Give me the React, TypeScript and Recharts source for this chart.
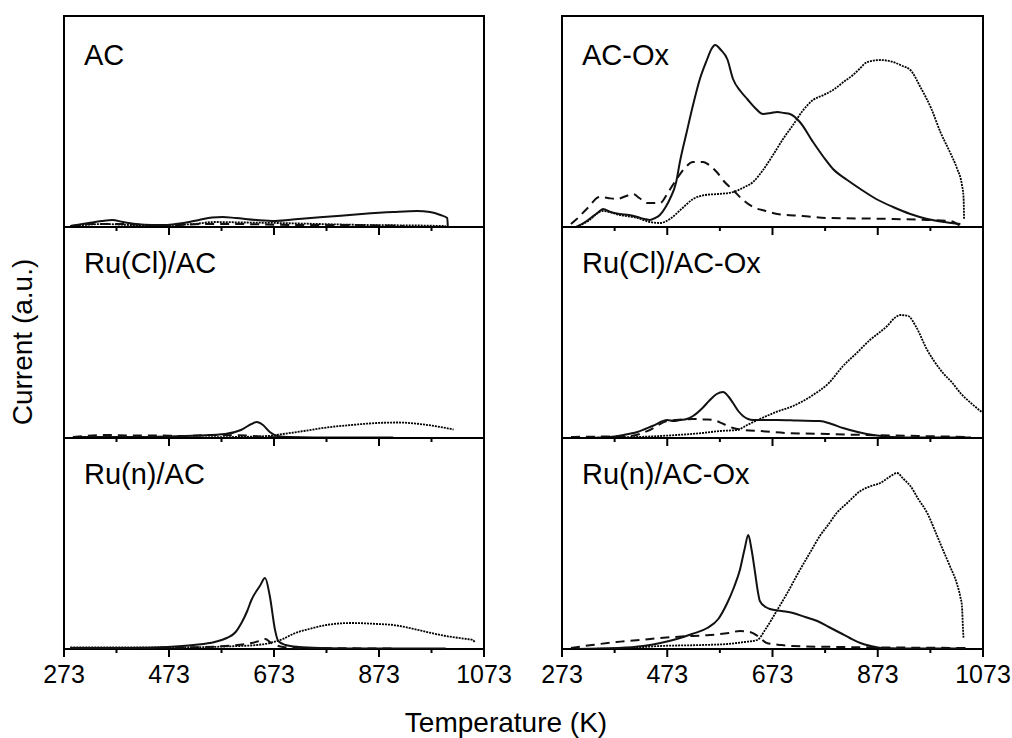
import React from "react";
import { LineChart, Line, XAxis, YAxis, ReferenceArea } from "recharts";

type Pt = [number, number];

// Temperature ticks (K)
const TICKS = [273, 373, 473, 573, 673, 773, 873, 973, 1073];
const MAJOR_TICKS = [273, 473, 673, 873, 1073];

// ---- AC ----
const AC_SOLID: Pt[] = [[285,1],[320,4],[345,6],[365,7],[385,5],[410,3],[440,2],[470,2],[500,4],[530,7],[555,9.5],[575,10],[600,9],[640,7],[675,6],[720,8],[780,10.5],[840,13],[900,15],[945,16],[970,15],[990,12],[1003,9],[1004,1]];
const AC_DASHED: Pt[] = [[285,1],[330,3],[380,3],[430,2],[480,2],[540,3],[600,3],[660,2.5],[720,2],[800,2],[880,1.5],[920,1]];
const AC_DOTTED: Pt[] = [[290,1],[350,3],[400,2],[470,2],[520,3],[560,5],[620,4.5],[680,4],[760,3],[850,2],[950,1.5],[1000,1]];

// ---- Ru(Cl)/AC ----
const RUCL_SOLID: Pt[] = [[290,1],[400,1],[470,1.5],[530,2.5],[580,4],[610,8],[630,14],[640,16],[652,13],[665,6],[680,2],[700,1],[800,0.5],[900,0.5]];
const RUCL_DASHED: Pt[] = [[290,1],[350,3],[400,2.5],[450,2.5],[500,2],[560,3],[620,2.5],[660,1],[720,0.5]];
const RUCL_DOTTED: Pt[] = [[290,0.5],[450,0.5],[600,1],[660,2],[690,4],[730,7],[773,10.5],[820,13],[870,15],[910,15.5],[950,14],[990,11],[1015,8.5]];

// ---- Ru(n)/AC ----
const RUN_SOLID: Pt[] = [[285,1],[400,1],[470,2],[520,4],[560,7],[583,11],[600,17],[611,26],[622,38],[630,49],[646,63],[656,71],[665,53],[675,19],[681,8],[695,4],[720,2],[760,1],[850,0.5],[1000,0.5]];
const RUN_DASHED: Pt[] = [[285,1],[400,1],[500,1.5],[580,3],[620,5],[645,8],[656,10],[668,6],[690,2],[730,1],[900,0.5]];
const RUN_DOTTED: Pt[] = [[285,1.5],[400,1.5],[500,1.5],[580,2.5],[640,4],[665,6],[690,10],[709,15],[740,20],[773,24],[820,26],[870,25],[900,24],[940,20],[964,17],[1000,13],[1040,10],[1052,9],[1055,7]];

// ---- AC-Ox ----
const ACOX_SOLID: Pt[] = [[300,0],[320,6],[340,14],[351,18],[365,15],[383,13],[400,12],[416,10],[430,8],[440,7],[450,9],[459,12],[470,20],[478,28],[490,45],[497,65],[510,95],[522,122],[535,148],[549,168],[557,178],[564,182],[575,177],[587,168],[598,148],[612,136],[625,128],[640,119],[655,113],[670,114],[682,115],[695,114],[706,113],[725,105],[750,85],[770,70],[788,58],[815,47],[840,38],[870,28],[902,20],[935,13],[967,8],[1000,5],[1030,3]];
const ACOX_DASHED: Pt[] = [[290,3],[301,8],[320,18],[345,30],[360,29],[377,28],[395,31],[408,33],[420,29],[434,24],[459,24],[475,35],[491,48],[505,58],[522,65],[541,65],[555,61],[567,55],[582,45],[598,37],[615,28],[636,20],[660,16],[682,13],[730,11],[777,9],[850,8.5],[902,8],[967,7],[1010,6],[1030,1]];
const ACOX_DOTTED: Pt[] = [[300,0],[320,5],[351,16],[383,12],[416,9],[440,5],[459,4],[478,8],[500,18],[522,28],[545,32],[570,33],[598,35],[620,40],[636,45],[655,57],[674,72],[693,88],[712,102],[730,116],[750,127],[770,132],[788,137],[808,145],[826,152],[840,159],[853,165],[878,167],[902,165],[920,161],[935,157],[954,140],[975,118],[992,95],[1010,75],[1024,58],[1033,42],[1036,30],[1037,8]];

// ---- Ru(Cl)/AC-Ox ----
const RUCLOX_SOLID: Pt[] = [[330,0],[364,1],[390,3],[416,6],[445,12],[473,18],[485,17],[497,18],[510,19],[522,22],[540,30],[554,38],[567,44],[579,46],[590,41],[598,35],[608,27],[617,22],[636,18],[660,18],[682,18],[720,17.5],[763,17],[785,14],[807,10],[835,6],[864,3],[900,1],[950,0.5],[1050,0.5]];
const RUCLOX_DASHED: Pt[] = [[290,1],[350,1.5],[402,2],[440,8],[473,17],[500,18.5],[522,19],[545,18.5],[560,18],[580,14],[598,10],[620,8],[649,7],[700,5],[777,4],[850,3],[950,2],[1050,1]];
const RUCLOX_DOTTED: Pt[] = [[300,0],[364,0.5],[440,1.5],[491,3],[540,5],[573,7],[606,8],[625,13],[649,19],[680,26],[712,32],[750,43],[780,55],[807,72],[835,86],[858,98],[875,105],[891,112],[905,120],[916,123],[931,122],[945,112],[967,88],[980,77],[997,65],[1015,55],[1030,45],[1050,35],[1073,25]];

// ---- Ru(n)/AC-Ox ----
const RUNOX_SOLID: Pt[] = [[300,0],[380,1],[427,3],[460,6],[491,10],[520,15],[549,21],[570,30],[587,46],[600,62],[611,79],[620,100],[627,114],[633,100],[640,76],[645,58],[649,48],[660,42],[668,40],[690,38],[712,36],[735,32],[758,28],[780,22],[802,16],[820,11],[840,6],[860,3],[880,1],[950,0.5],[1040,0.5]];
const RUNOX_DASHED: Pt[] = [[290,1],[330,4],[377,7],[420,9],[459,11],[500,12.5],[554,14],[590,16],[611,18],[630,17],[645,13],[662,6],[690,4],[712,3],[800,2],[900,1.5],[1040,1]];
const RUNOX_DOTTED: Pt[] = [[300,0],[400,1],[459,3],[540,4],[587,5],[620,7],[644,9],[660,20],[682,39],[700,55],[725,79],[745,97],[763,113],[780,125],[795,136],[815,146],[840,158],[860,163],[878,166],[895,172],[910,176],[922,170],[935,163],[950,150],[967,136],[982,118],[997,99],[1010,83],[1023,66],[1030,52],[1033,43],[1035,20],[1036,11]];

const Y_MAX = 211;
const FONT = "'Liberation Sans', Arial, Helvetica, sans-serif";

const toRows = (pts: Pt[]) => pts.map(([T, v]) => ({ T, v }));

const PANELS = [
  { label: "AC", col: 0, row: 0, solid: AC_SOLID, dashed: AC_DASHED, dotted: AC_DOTTED },
  { label: "Ru(Cl)/AC", col: 0, row: 1, solid: RUCL_SOLID, dashed: RUCL_DASHED, dotted: RUCL_DOTTED },
  { label: "Ru(n)/AC", col: 0, row: 2, solid: RUN_SOLID, dashed: RUN_DASHED, dotted: RUN_DOTTED },
  { label: "AC-Ox", col: 1, row: 0, solid: ACOX_SOLID, dashed: ACOX_DASHED, dotted: ACOX_DOTTED },
  { label: "Ru(Cl)/AC-Ox", col: 1, row: 1, solid: RUCLOX_SOLID, dashed: RUCLOX_DASHED, dotted: RUCLOX_DOTTED },
  { label: "Ru(n)/AC-Ox", col: 1, row: 2, solid: RUNOX_SOLID, dashed: RUNOX_DASHED, dotted: RUNOX_DOTTED },
];

const COL_X = [64, 562];
const COL_W = [420, 421];
const ROW_Y = [16, 227, 438];
const PANEL_H = 211;
const M = 6;
const MX = 30;

function TempTick(props: any) {
  const { x, y, payload, showLabel } = props;
  const major = MAJOR_TICKS.includes(payload.value);
  const len = major ? 8 : 4;
  return (
    <g>
      <line x1={x} x2={x} y1={y} y2={y + len} stroke="#000" strokeWidth={2} />
      {showLabel && major ? (
        <text x={x} y={y + 34} textAnchor="middle" fontSize={25} fontFamily={FONT} fill="#000">
          {payload.value}
        </text>
      ) : null}
    </g>
  );
}

function Panel(p: any) {
  const w = COL_W[p.col];
  const left = COL_X[p.col];
  const top = ROW_Y[p.row];
  const showLabel = p.row === 2;
  return (
    <div style={{ position: "absolute", left: left - MX, top: top - M }}>
      <LineChart width={w + 2 * MX} height={PANEL_H + M + 40} margin={{ top: M, left: MX, right: MX, bottom: 0 }}>
        <XAxis
          type="number"
          dataKey="T"
          domain={[273, 1073]}
          ticks={TICKS}
          interval={0}
          allowDataOverflow
          height={40}
          tickSize={0}
          tickMargin={0}
          axisLine={false}
          tickLine={false}
          tick={(tp: any) => <TempTick {...tp} showLabel={showLabel} />}
        />
        <YAxis hide type="number" domain={[0, Y_MAX]} allowDataOverflow />
        <Line data={toRows(p.dotted)} dataKey="v" type="monotone" stroke="#000" strokeWidth={1.8} strokeDasharray="2 1" dot={false} isAnimationActive={false} />
        <Line data={toRows(p.dashed)} dataKey="v" type="monotone" stroke="#111" strokeWidth={2} strokeDasharray="9 6" dot={false} isAnimationActive={false} />
        <Line data={toRows(p.solid)} dataKey="v" type="monotone" stroke="#111" strokeWidth={2} dot={false} isAnimationActive={false} />
        <ReferenceArea x1={273} x2={1073} y1={0} y2={Y_MAX} fill="none" fillOpacity={0} stroke="#000" strokeWidth={2} ifOverflow="visible" />
      </LineChart>
    </div>
  );
}

export default function App() {
  return (
    <div style={{ position: "absolute", left: 0, top: 0, width: 1012, height: 738, background: "#fff", overflow: "hidden" }}>
      {PANELS.map((p) => (
        <Panel key={p.label} {...p} />
      ))}
      <svg width={1012} height={738} style={{ position: "absolute", left: 0, top: 0, pointerEvents: "none" }}>
        {PANELS.map((p) => (
          <text key={p.label} x={COL_X[p.col] + 20} y={ROW_Y[p.row] + (p.row === 0 ? 49 : 46)} fontSize={29} fontFamily={FONT} fill="#000">
            {p.label}
          </text>
        ))}
        <text x={506} y={732} textAnchor="middle" fontSize={28} fontFamily={FONT} fill="#000">
          Temperature (K)
        </text>
        <text x={32} y={342} textAnchor="middle" fontSize={28} fontFamily={FONT} fill="#000" transform="rotate(-90 32 342)">
          Current (a.u.)
        </text>
      </svg>
    </div>
  );
}
